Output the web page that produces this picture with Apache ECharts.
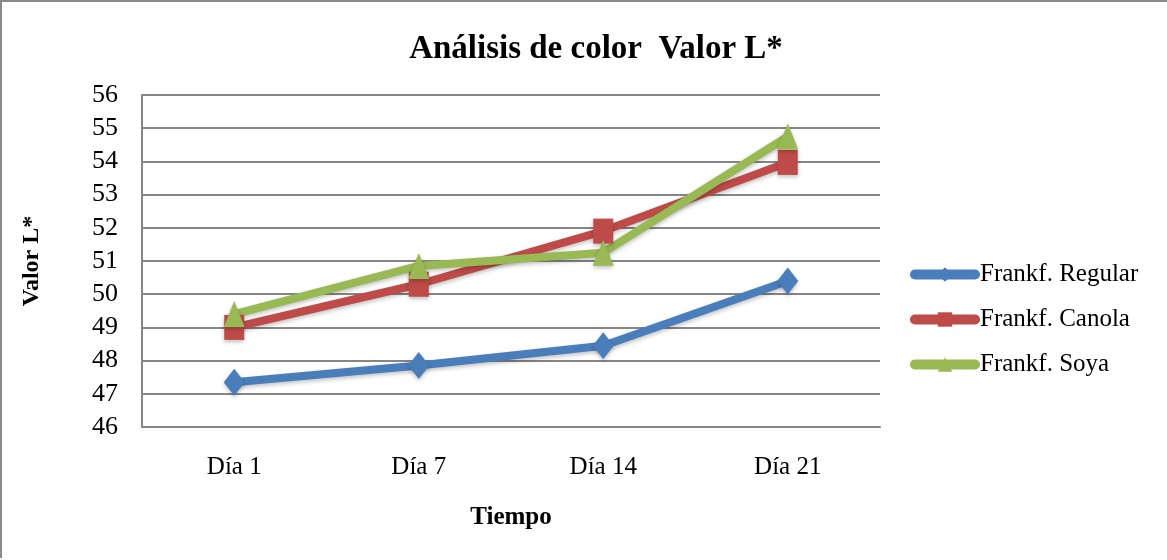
<!DOCTYPE html>
<html>
<head>
<meta charset="utf-8">
<script src="https://cdn.jsdelivr.net/npm/echarts@6/dist/echarts.min.js"></script>
<style>
    html, body {margin: 0; padding: 0; background: #fff;}
    #chart {
        position: absolute; left: 0; top: 0;
        width: 1165px; height: 556px;
        border-top: 2px solid #898989; border-left: 2px solid #898989;
    }
</style>
</head>
<body>
<div id="chart"></div>
<script>
    // 数据
    var dias = ['Día 1', 'Día 7', 'Día 14', 'Día 21'];
    var regular = [47.35, 47.85, 48.45, 50.4];
    var canola = [49.0, 50.3, 51.9, 53.97];
    var soya = [49.4, 50.85, 51.25, 54.75];

    var serif = '"Liberation Serif", "DejaVu Serif", serif';
    var chart = echarts.init(document.getElementById('chart'));

    function serie(name, data, color, symbol, size) {
        return {
            name: name, type: 'line', data: data,
            symbol: symbol, symbolSize: size,
            lineStyle: {width: 8, color: color, shadowColor: 'rgba(0,0,0,0.25)', shadowBlur: 4, shadowOffsetY: 2},
            itemStyle: {color: color, shadowColor: 'rgba(0,0,0,0.25)', shadowBlur: 4, shadowOffsetY: 2},
            animation: false
        };
    }

    var option = {
        title: {
            text: 'Análisis de color  Valor L*', left: 589, top: 26, textAlign: 'center',
            textStyle: {fontFamily: serif, fontSize: 33, fontWeight: 'bold', color: '#000'}
        },
        legend: {
            orient: 'vertical', left: 903, top: 255, itemGap: 20,
            itemWidth: 60, itemHeight: 18, itemSymbolKeepAspect: true,
            lineStyle: {width: 10, cap: 'round'},
            textStyle: {fontFamily: serif, fontSize: 25, color: '#000'},
            data: ['Frankf. Regular', 'Frankf. Canola', 'Frankf. Soya']
        },
        grid: {left: 140, right: 287, top: 93, bottom: 131},
        xAxis: {
            type: 'category', data: dias, boundaryGap: true,
            name: 'Tiempo', nameLocation: 'middle', nameGap: 78,
            nameTextStyle: {fontFamily: serif, fontSize: 25, fontWeight: 'bold', color: '#000'},
            axisLine: {lineStyle: {color: '#868686', width: 2}},
            axisTick: {show: false},
            axisLabel: {fontFamily: serif, fontSize: 25, color: '#000', margin: 28}
        },
        yAxis: {
            type: 'value', min: 46, max: 56, interval: 1,
            name: 'Valor L*', nameLocation: 'middle', nameGap: 98,
            nameTextStyle: {fontFamily: serif, fontSize: 24, fontWeight: 'bold', color: '#000'},
            axisLine: {show: true, lineStyle: {color: '#868686', width: 2}},
            axisTick: {show: false},
            splitLine: {lineStyle: {color: '#868686', width: 2}},
            axisLabel: {fontFamily: serif, fontSize: 26, color: '#000', margin: 24}
        },
        series: [
            serie('Frankf. Regular', regular, '#4a7ebb', 'diamond', [21, 27]),
            serie('Frankf. Canola', canola, '#be4b48', 'rect', [20, 25]),
            serie('Frankf. Soya', soya, '#98b954', 'triangle', [21, 26])
        ]
    };
    chart.setOption(option);
</script>
</body>
</html>
